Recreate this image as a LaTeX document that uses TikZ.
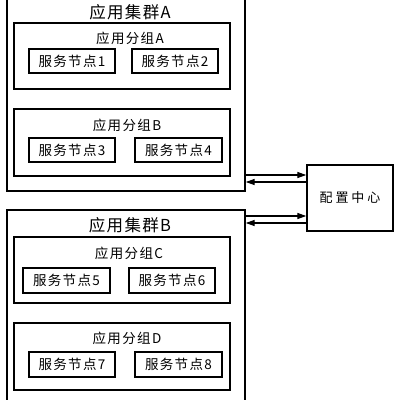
\documentclass[tikz,border=0pt]{standalone}
\usepackage{fontspec}
\setmainfont{Noto Sans CJK SC}
\newfontfamily\ttl{Noto Sans CJK SC}[LetterSpace=8]
\newfontfamily\grp{Noto Sans CJK SC}[LetterSpace=10]
\newfontfamily\cfgf{Noto Sans CJK SC}[LetterSpace=22]
\usetikzlibrary{arrows.meta}
\tikzset{
  box/.style={draw, line width=1.4pt, inner sep=0pt, rectangle},
  ttltext/.style={inner sep=0pt, font=\ttl\fontsize{16.5}{17}\selectfont},
  grptext/.style={inner sep=0pt, font=\grp\fontsize{13.5}{14}\selectfont},
  nodetext/.style={font=\grp\fontsize{13.5}{14}\selectfont},
  link/.style={line width=1.3pt, -{Triangle[length=9pt,width=6pt]}}
}
\begin{document}
\begin{tikzpicture}[x=1pt,y=-1pt]
\useasboundingbox (0,0) rectangle (400,400);
\clip (0,0) rectangle (400,400);
% clusters
\node[box, minimum width=238pt, minimum height=194pt] (clA) at (126,94) {};
\node[box, minimum width=238pt, minimum height=200pt] (clB) at (126,310) {};
\node[ttltext] (tA) at (130,12) {应用集群A};
\node[ttltext] (tB) at (130,225) {应用集群B};
% groups
\node[box, minimum width=216pt, minimum height=66pt] (gA) at (122,56) {};
\node[box, minimum width=216pt, minimum height=67pt] (gB) at (122,142.5) {};
\node[box, minimum width=216pt, minimum height=66pt] (gC) at (122,270) {};
\node[box, minimum width=216pt, minimum height=67pt] (gD) at (122,356.5) {};
\node[grptext] (tgA) at (130,38) {应用分组A};
\node[grptext] (tgB) at (127,125) {应用分组B};
\node[grptext] (tgC) at (129,253) {应用分组C};
\node[grptext] (tgD) at (127,338) {应用分组D};
% service nodes
\node[box, nodetext, minimum width=86pt, minimum height=24pt] (n1) at (72,61) {服务节点1};
\node[box, nodetext, minimum width=86pt, minimum height=24pt] (n2) at (175,61) {服务节点2};
\node[box, nodetext, minimum width=86pt, minimum height=24pt] (n3) at (72,150) {服务节点3};
\node[box, nodetext, minimum width=87pt, minimum height=24pt] (n4) at (178.5,150) {服务节点4};
\node[box, nodetext, minimum width=87pt, minimum height=25pt] (n5) at (66.5,280.5) {服务节点5};
\node[box, nodetext, minimum width=86pt, minimum height=25pt] (n6) at (172,280.5) {服务节点6};
\node[box, nodetext, minimum width=86pt, minimum height=25pt] (n7) at (72,364.5) {服务节点7};
\node[box, nodetext, minimum width=87pt, minimum height=25pt] (n8) at (178.5,364.5) {服务节点8};
% config centre
\node[box, font=\cfgf\fontsize{13}{13}\selectfont, minimum width=86pt, minimum height=66pt] (cfg) at (350,198) {配置中心};
% links
\draw[link] (clA.east |- 0,175) -- (cfg.west |- 0,175);
\draw[link] (cfg.west |- 0,182) -- (clA.east |- 0,182);
\draw[link] (clB.east |- 0,216) -- (cfg.west |- 0,216);
\draw[link] (cfg.west |- 0,223) -- (clB.east |- 0,223);
\end{tikzpicture}
\end{document}
